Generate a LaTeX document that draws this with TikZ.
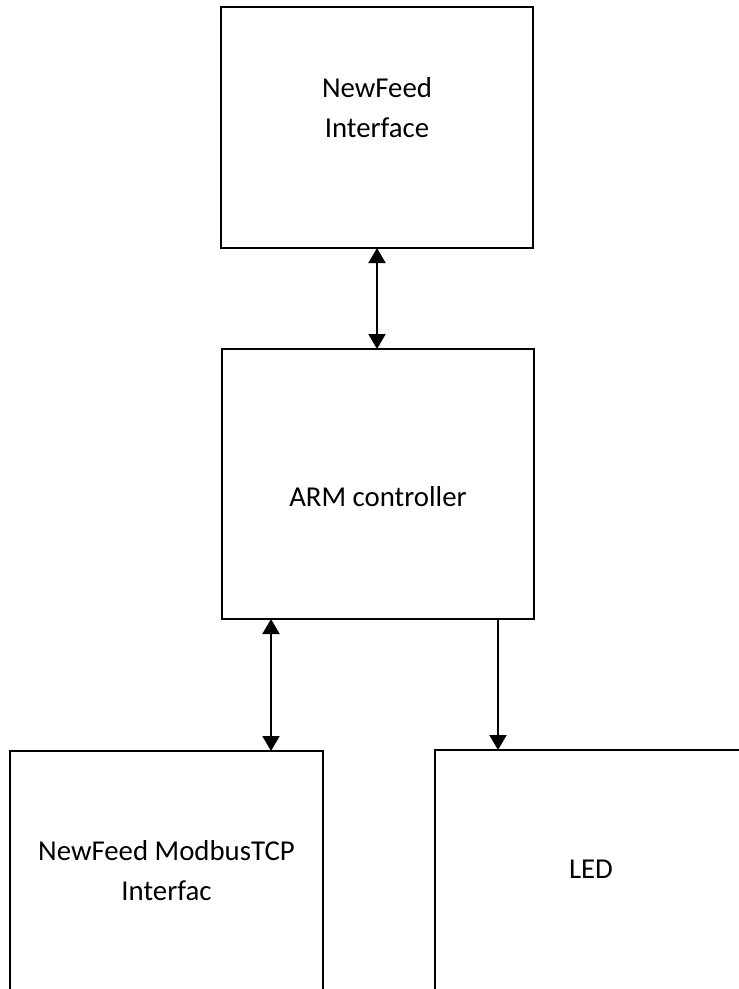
\documentclass[tikz,border=0pt]{standalone}
\usepackage{fontspec}
\setmainfont{Carlito}
\usetikzlibrary{arrows.meta}
\begin{document}
\begin{tikzpicture}[x=1pt,y=-1pt,
  blk/.style={draw=black,line width=2.2pt,inner sep=0pt,outer sep=0pt,rectangle},
  lbl/.style={font=\fontsize{28.8}{39.5}\selectfont,align=center,anchor=base,inner sep=0pt},
  tip/.tip={Triangle[width=17pt,length=15pt]},
  conn/.style={line width=2pt,-tip},
  biconn/.style={line width=2pt,tip-tip}]
\useasboundingbox (0,0) rectangle (739,989);
\clip (0,0) rectangle (739,989);
\fill[white] (0,0) rectangle (739,989);
\node[blk,minimum width=312pt,minimum height=241pt] (nfi) at (377,127.5) {};
\node[blk,minimum width=312pt,minimum height=270pt] (arm) at (378,484) {};
\node[blk,minimum width=313pt,minimum height=300pt] (mtcp) at (166.5,901) {};
\node[blk,minimum width=312pt,minimum height=300pt] (led) at (591,900) {};
\node[lbl] (tnfi) at (377,137) {NewFeed\\Interface};
\node[lbl] (tarm) at (378,506) {ARM controller};
\node[lbl] (tmtcp) at (166.5,900) {NewFeed ModbusTCP\\Interfac};
\node[lbl] (tled) at (591,878) {LED};
\coordinate (xa) at (377,0);
\coordinate (xb) at (271,0);
\coordinate (xc) at (498,0);
\draw[biconn] (nfi.south -| xa) -- (arm.north -| xa);
\draw[biconn] (arm.south -| xb) -- (mtcp.north -| xb);
\draw[conn] (arm.south -| xc) -- (led.north -| xc);
\end{tikzpicture}
\end{document}
